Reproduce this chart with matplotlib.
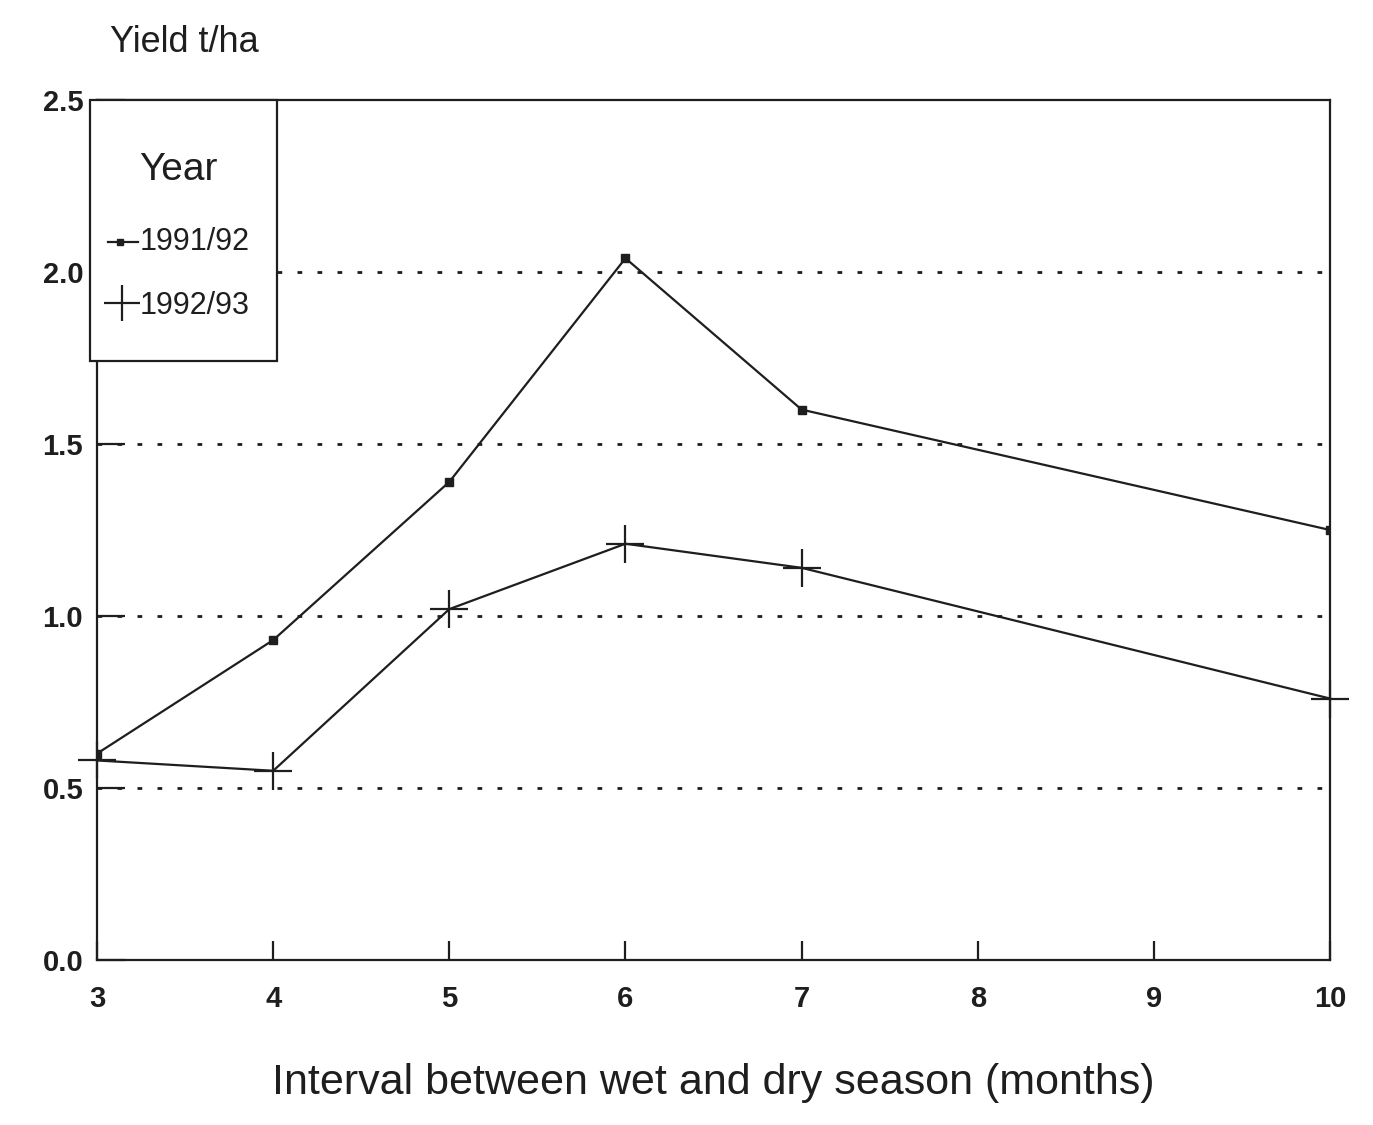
import matplotlib.pyplot as plt
from matplotlib.patches import Rectangle

######################################################
# Data
######################################################

months = [3, 4, 5, 6, 7, 10]
yield_9192 = [0.60, 0.93, 1.39, 2.04, 1.60, 1.25]
yield_9293 = [0.58, 0.55, 1.02, 1.21, 1.14, 0.76]
x_ticks = [3, 4, 5, 6, 7, 8, 9, 10]
y_ticks = [0.0, 0.5, 1.0, 1.5, 2.0, 2.5]
grid_levels = [0.5, 1.0, 1.5, 2.0]
series_names = ['1991/92', '1992/93']

FONT = ['Liberation Sans', 'DejaVu Sans']
INK = '#1e1e1e'

######################################################
# Figure
######################################################

plt.rcParams['font.family'] = FONT
plt.rcParams['lines.scale_dashes'] = False
fig = plt.figure(figsize=(13.73, 11.25), dpi=100)
ax = fig.add_axes([0.0707, 0.1467, 0.8980, 0.7644])

for g in grid_levels:
    ax.axhline(g, color=INK, lw=2.0, ls=(0, (3.4, 11.0)), zorder=1)

ax.plot(months, yield_9192, color=INK, lw=1.6, marker='s', ms=6,
        mfc=INK, mec=INK, zorder=3)
ax.plot(months, yield_9293, color=INK, lw=1.6, marker='+', ms=28,
        mew=1.6, mec=INK, zorder=3, clip_on=False)

ax.set_xlim(3, 10)
ax.set_ylim(0, 2.5)
ax.set_xticks(x_ticks)
ax.set_yticks(y_ticks)
ax.set_xticklabels([str(t) for t in x_ticks], fontsize=21, fontweight='bold')
ax.set_yticklabels(['%.1f' % t for t in y_ticks], fontsize=21, fontweight='bold')
ax.tick_params(axis='y', direction='in', length=20, width=1.6, color=INK,
               labelcolor=INK, pad=10)
ax.tick_params(axis='x', direction='in', length=14, width=1.6, color=INK,
               labelcolor=INK, pad=18)
for s in ax.spines.values():
    s.set_linewidth(1.6)
    s.set_color(INK)

ax.set_xlabel('Interval between wet and dry season (months)',
              fontsize=31, color=INK, labelpad=36)
fig.text(0.080, 0.954, 'Yield t/ha', fontsize=26, color=INK, va='baseline')

######################################################
# Legend box (drawn by hand to match the boxed key)
######################################################

tr = ax.transAxes
ax.add_patch(Rectangle((-0.0057, 0.6965), 0.1517, 0.3035, transform=tr,
                       facecolor='white', edgecolor=INK, lw=1.6,
                       clip_on=False, zorder=5))
ax.text(0.0657, 0.9186, 'Year', transform=tr, fontsize=28, color=INK,
        ha='center', va='center', zorder=6)
ax.plot([0.0089, 0.0332], [0.8349, 0.8349], transform=tr, color=INK,
        lw=1.6, clip_on=False, zorder=6)
ax.plot([0.0187], [0.8349], transform=tr, color=INK, marker='s', ms=5,
        clip_on=False, zorder=6)
ax.plot([0.0203], [0.7640], transform=tr, color=INK, marker='+', ms=26,
        mew=1.6, clip_on=False, zorder=6)
for yy, name in zip([0.8349, 0.7610], series_names):
    ax.text(0.0349, yy, name, transform=tr, fontsize=22, color=INK,
            ha='left', va='center', zorder=6)

fig.savefig('out.png', dpi=100, facecolor='white')
